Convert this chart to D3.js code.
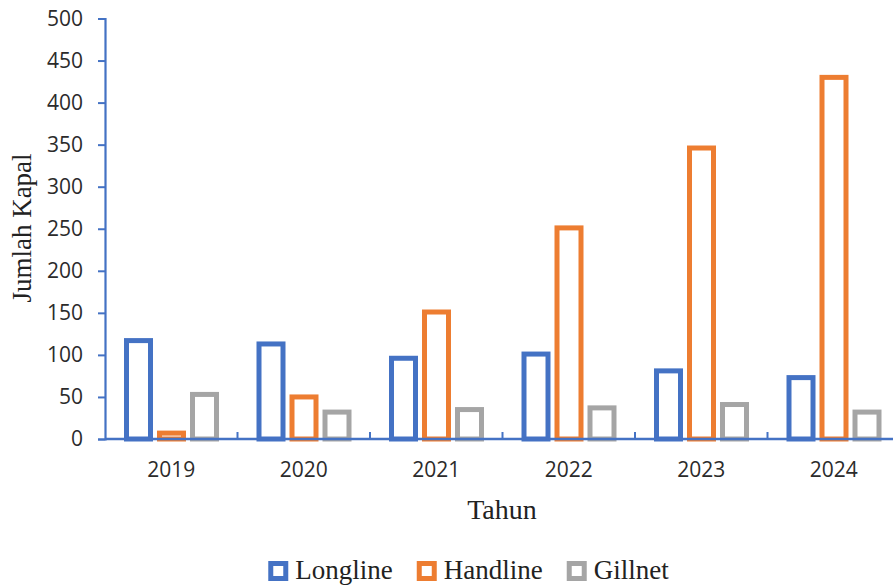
<!DOCTYPE html>
<html>
<head>
<meta charset="utf-8">
<script src="https://cdn.jsdelivr.net/npm/d3@7"></script>
<style>
  body { margin: 0; background: #fff; }
  svg { display: block; }
</style>
</head>
<body>
<div id="chart"></div>
<script>
const years = ["2019", "2020", "2021", "2022", "2023", "2024"];
const seriesNames = ["Longline", "Handline", "Gillnet"];
const longline = [117, 113, 96, 101, 81, 73];
const handline = [7, 50, 151, 251, 346, 430];
const gillnet = [53, 32, 35, 37, 41, 32];
const yTicks = [0, 50, 100, 150, 200, 250, 300, 350, 400, 450, 500];
const colors = ["#4472C4", "#ED7D31", "#A5A5A5"];

const width = 893, height = 586;
const marginLeft = 105, marginTop = 18.5, plotBottom = 439;
const catWidth = 132.5;
const sw = 5; // bar outline width

const values = [longline, handline, gillnet];

const svg = d3.select("#chart").append("svg")
    .attr("width", width)
    .attr("height", height);

const x0 = d3.scaleBand()
    .domain(years)
    .range([marginLeft, marginLeft + catWidth * years.length]);

// bars sit inside each category, leaving a gap on both sides
const x1 = d3.scaleBand()
    .domain(seriesNames)
    .range([19, 118]);

const y = d3.scaleLinear()
    .domain([0, 500])
    .range([plotBottom, marginTop]);

// bars
seriesNames.forEach(function(name, si) {
  svg.append("g").selectAll("rect")
    .data(years.map((yr, i) => ({year: yr, v: values[si][i]})))
    .join("rect")
      .attr("x", d => x0(d.year) + x1(name) + sw / 2)
      .attr("y", d => y(d.v))
      .attr("width", x1.bandwidth() - 4 - sw)
      .attr("height", d => y(0) - y(d.v))
      .attr("fill", "none")
      .attr("stroke", colors[si])
      .attr("stroke-width", sw);
});

// y axis
const yAxis = svg.append("g")
    .attr("transform", `translate(${marginLeft},0)`)
    .call(d3.axisLeft(y).tickValues(yTicks).tickSize(7).tickPadding(15));
yAxis.select(".domain").attr("stroke", "#4472C4").attr("stroke-width", 2.2);
yAxis.selectAll(".tick line").attr("stroke", "#4472C4").attr("stroke-width", 2);
yAxis.selectAll(".tick text")
    .attr("font-family", "'Open Sans', sans-serif")
    .attr("font-size", 21)
    .attr("fill", "#2b2b2b");

// x axis: category boundary ticks pointing up into the plot
const xAxis = svg.append("g")
    .attr("transform", `translate(0,${plotBottom})`);
xAxis.append("line")
    .attr("x1", marginLeft).attr("x2", width)
    .attr("stroke", "#4472C4").attr("stroke-width", 2.5);
xAxis.selectAll("line.tick")
    .data(years.slice(1))
    .join("line")
      .attr("class", "tick")
      .attr("x1", d => x0(d)).attr("x2", d => x0(d))
      .attr("y1", 0).attr("y2", -7)
      .attr("stroke", "#4472C4").attr("stroke-width", 2);
xAxis.selectAll("text")
    .data(years)
    .join("text")
      .attr("x", d => x0(d) + x0.bandwidth() / 2)
      .attr("y", 38)
      .attr("text-anchor", "middle")
      .attr("font-family", "'Open Sans', sans-serif")
      .attr("font-size", 21)
      .attr("fill", "#2b2b2b")
      .text(d => d);

// axis titles
svg.append("text")
    .attr("x", 502)
    .attr("y", 519)
    .attr("text-anchor", "middle")
    .attr("font-family", "'Liberation Serif', serif")
    .attr("font-size", 28)
    .attr("fill", "#222")
    .text("Tahun");

svg.append("text")
    .attr("transform", "translate(31,228) rotate(-90)")
    .attr("text-anchor", "middle")
    .attr("font-family", "'Liberation Serif', serif")
    .attr("font-size", 27)
    .attr("fill", "#222")
    .text("Jumlah Kapal");

// legend
const legend = svg.append("g");
let lx = 0;
seriesNames.forEach(function(name, i) {
  const g = legend.append("g").attr("transform", `translate(${lx},0)`);
  g.append("rect")
    .attr("x", 2.5).attr("y", -15.5)
    .attr("width", 15).attr("height", 15)
    .attr("fill", "none")
    .attr("stroke", colors[i])
    .attr("stroke-width", 5);
  const t = g.append("text")
    .attr("x", 27)
    .attr("y", 0)
    .attr("font-family", "'Liberation Serif', serif")
    .attr("font-size", 27)
    .attr("fill", "#222")
    .text(name);
  lx += 27 + t.node().getComputedTextLength() + 24;
});
const legendWidth = lx - 24;
legend.attr("transform", `translate(${468.5 - legendWidth / 2},579)`);
</script>
</body>
</html>
